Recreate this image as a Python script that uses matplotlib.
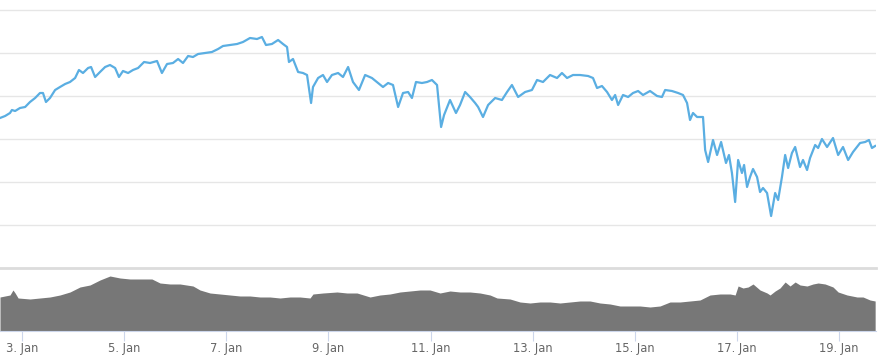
import numpy as np
import matplotlib
matplotlib.use("Agg")
import matplotlib.pyplot as plt
import matplotlib.dates as mdates
from matplotlib.ticker import FuncFormatter


# Series start (left edge of the chart)
start = np.datetime64("2018-01-02T13:40")

# Price line: hours since start, price
price_hours = [
    0, 2.4, 4.7, 5.6, 7.1, 9.4, 11.8, 14.1, 16.5, 18.8, 20.2, 21.6, 23.5, 25.9,
    28.2, 30.6, 32.9, 35.3, 37.1, 39.0, 41.4, 42.8, 44.7, 47.0, 49.4, 51.7, 54.1,
    55.9, 57.8, 60.2, 62.5, 64.9, 67.7,
    70.5, 73.8, 76.1, 78.5, 81.3, 83.7, 86.0, 88.4, 90.7, 93.1, 96.4, 99.6,
    102.5, 104.8, 108.1, 111.4, 114.2, 117.5, 120.8, 123.1, 125.0, 127.8, 130.7,
    133.0, 134.9, 135.8, 137.7,
    140.1, 142.4, 144.3, 146.2, 147.1, 149.5, 151.8, 153.7, 156.0, 158.9, 161.2,
    163.6, 165.9, 168.7, 171.6, 174.8, 177.7, 180.0, 182.4, 184.7, 187.1, 189.4,
    191.8, 193.6, 195.5, 198.3, 200.7, 203.0, 205.4,
    207.3, 208.7, 211.5, 214.3, 216.2, 218.6, 220.9, 223.3, 224.7, 227.0, 229.4,
    232.7, 235.9, 238.3, 240.6, 243.5, 246.8, 250.0, 252.4, 255.2, 258.5, 261.8,
    264.1, 266.5, 269.3,
    272.6, 276.4, 278.7, 280.6, 282.9, 285.3, 287.6, 289.1, 290.5, 292.8, 295.2,
    297.5, 299.9, 302.2, 305.5, 308.8, 311.1, 312.6, 315.8, 318.7, 321.0, 322.9,
    324.3, 325.7, 327.6, 330.4, 331.4, 332.8, 335.1, 337.0, 338.9, 341.2, 342.6,
    344.0, 345.5, 346.9, 348.7, 349.7, 351.1, 352.5, 353.9, 355.8, 357.2, 358.6,
    360.5, 362.4, 364.3, 365.7, 367.5, 369.0, 370.4, 372.2, 373.7, 376.0, 377.4,
    379.3, 380.7, 383.1, 384.5, 386.3, 388.7, 391.5, 393.9, 396.2, 398.6, 400.9,
    404.2, 406.6, 408.4, 409.8, 411.3,
]
price = [
    150, 152, 155, 158, 157, 160, 161, 166, 170, 175, 175, 166, 170, 178,
    181, 184, 186, 190, 198, 195, 200, 201, 191, 196, 201, 203, 200,
    191, 197, 195, 198, 200, 206,
    205, 207, 195, 204, 205, 209, 205, 212, 211, 214, 215, 216,
    219, 222, 223, 224, 226, 230, 229, 231, 223, 224, 228,
    224, 221, 206, 209,
    196, 195, 193, 165, 181, 190, 193, 186, 193, 195, 191,
    201, 186, 178, 193, 190, 185, 181, 185, 183, 161, 175,
    176, 170, 186, 185, 186, 188, 183,
    141, 153, 168, 155, 163, 176, 171, 165, 161, 151, 163,
    170, 168, 176, 183, 171, 176, 178, 188, 186, 193, 190,
    195, 190, 193,
    193, 192, 190, 180, 182, 176, 168, 173, 163, 173, 171,
    175, 177, 173, 177, 172, 171, 178, 177, 175, 173, 165,
    148, 155, 151, 151, 118, 106, 128, 113, 126, 105, 113,
    95, 66, 108, 95, 103, 81, 91, 99, 91, 76, 80,
    75, 52, 75, 68, 91, 113, 100, 115, 121, 101, 108,
    98, 110, 123, 120, 129, 121, 130, 113, 121, 108, 116,
    125, 126, 128, 120, 122,
]

# Volume area: hours since start, volume
volume_hours = [
    0, 4.7, 6.1, 7.1, 8.5, 14.1, 18.8, 23.5, 28.2, 32.9, 37.6, 42.3, 47.0, 51.7,
    56.4, 61.1, 65.8, 71.4, 75.2, 79.9, 84.6, 90.7, 94.0, 98.7, 103.4, 108.1,
    112.8, 117.5, 122.2, 126.9, 131.6, 136.3, 141.0, 145.7, 147.1, 151.8, 158.4,
    163.1, 167.8, 173.9, 178.6, 183.3, 188.0, 192.7, 197.4, 202.1, 206.8, 211.5,
    216.2, 220.9, 225.6, 230.3, 233.6, 239.7, 244.4, 249.1, 253.8, 258.5, 263.2,
    267.9, 272.6, 277.3, 282.0, 286.7, 291.4, 296.1, 300.8, 305.5, 310.2, 314.9,
    319.6, 324.3, 329.0, 333.7, 338.4, 343.1, 345.5, 346.9, 349.2, 351.6, 353.9,
    357.2, 360.5, 361.9, 364.3, 366.6, 369.0, 371.3, 373.7, 376.0, 379.3, 382.1,
    384.5, 387.8, 391.5, 393.9, 398.1, 402.8, 405.6, 408.9, 411.3,
]
volume = [
    34, 36, 41, 38, 33, 32, 33, 34, 36, 39, 44, 46, 51, 55,
    53, 52, 52, 52, 48, 47, 47, 45, 41, 38, 37, 36,
    35, 35, 34, 34, 33, 34, 34, 33, 37, 38, 39,
    38, 38, 34, 36, 37, 39, 40, 41, 41, 38, 40,
    39, 39, 38, 36, 33, 32, 29, 28, 29, 29, 28,
    29, 30, 30, 28, 27, 25, 25, 25, 24, 25, 29,
    29, 30, 31, 36, 37, 37, 36, 45, 43, 44, 47,
    41, 38, 36, 40, 43, 49, 45, 49, 46, 45, 47,
    48, 47, 44, 39, 36, 34, 34, 31, 30,
]


def to_time(hours):
    minutes = np.round(np.asarray(hours) * 60).astype("timedelta64[m]")
    return start + minutes


price_t = to_time(price_hours)
volume_t = to_time(volume_hours)
x_end = to_time([411.7])[0]

W, H = 884, 363
fig = plt.figure(figsize=(W / 100, H / 100), dpi=100)
fig.patch.set_facecolor("white")

# Price pane (pixel rows 9..268) and volume pane (268..331)
ax = fig.add_axes([0, (H - 268) / H, 876 / W, 259 / H])
axv = fig.add_axes([0, (H - 331) / H, 876 / W, 63 / H], sharex=ax)

ax.plot(price_t, price, color="#5aaee2", lw=1.6, solid_joinstyle="round", zorder=3)
ax.set_ylim(0, 259)
ax.set_yticks(np.arange(43, 260, 43))
ax.grid(axis="y", color="#e6e6e6", lw=1)
ax.tick_params(left=False, labelleft=False, bottom=False, labelbottom=False)
for s in ax.spines.values():
    s.set_visible(False)

axv.fill_between(volume_t, volume, 0, color="#777777", lw=0, zorder=2)
axv.set_ylim(0, 63)
axv.set_yticks([])
axv.axhline(63, color="#dcdcdc", lw=2, zorder=1, clip_on=False)
for name in ["top", "left", "right"]:
    axv.spines[name].set_visible(False)
axv.spines["bottom"].set_color("#ccd6eb")

axv.set_xlim(start, x_end)
axv.xaxis.set_major_locator(mdates.DayLocator(bymonthday=list(range(3, 20, 2))))
axv.xaxis.set_major_formatter(
    FuncFormatter(lambda v, pos: f"{mdates.num2date(v).day}. {mdates.num2date(v):%b}")
)
axv.tick_params(axis="x", length=7, width=0.8, color="#ccd6eb", labelcolor="#666666",
                labelsize=8.3, pad=1)

fig.savefig("out.png", dpi=100)
